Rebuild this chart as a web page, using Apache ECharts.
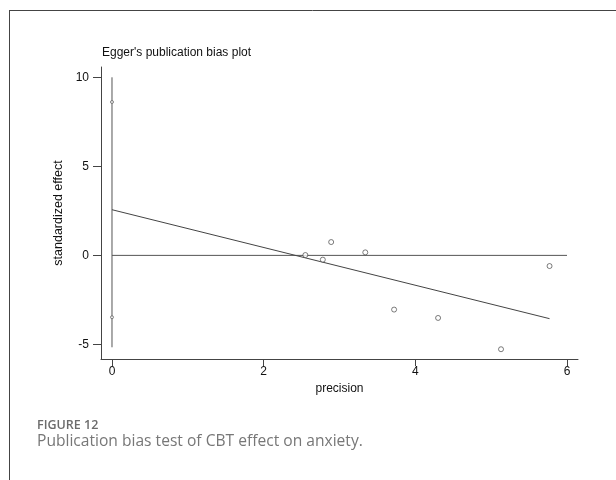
<!DOCTYPE html>
<html>
<head>
<meta charset="utf-8">
<script src="https://cdn.jsdelivr.net/npm/echarts@6/dist/echarts.min.js"></script>
<style>html,body{margin:0;padding:0;background:#fff}#c{width:616px;height:480px}</style>
</head>
<body>
<div id="c"></div>
<script>
// Study points: precision (x) vs standardized effect (y)
var precision = [2.55, 2.78, 2.89, 3.34, 3.72, 4.30, 5.13, 5.77];
var stdEffect = [0.02, -0.24, 0.75, 0.17, -3.05, -3.52, -5.28, -0.60];
// Egger regression line endpoints
var regX = [0, 5.77];
var regY = [2.57, -3.56];
// Intercept confidence interval (vertical line at x = 0) and markers
var ciLineY = [10.02, -5.17];
var ciMarkY = [8.63, -3.48];
// Zero reference line
var zeroX = [0, 6];
var zeroY = [0, 0];
// Tick labels
var xTicks = [0, 2, 4, 6];
var yTicks = [-5, 0, 5, 10];

var chart = echarts.init(document.getElementById('c'), null, {renderer: 'canvas'});
var font = 'Liberation Sans, Arial, sans-serif';
var lineCol = '#444';

function pairs(xs, ys) { return xs.map(function (x, i) { return [x, ys[i]]; }); }

chart.setOption({
  animation: false,
  backgroundColor: '#fff',
  title: {
    text: "Egger's publication bias plot",
    left: 97, top: 42,
    textStyle: {fontFamily: font, fontSize: 12, fontWeight: 'normal', color: '#111'}
  },
  grid: {left: 101, right: 38, top: 67, bottom: 121},
  xAxis: {
    type: 'value', min: -0.145, max: 6.145,
    name: 'precision', nameLocation: 'middle', nameGap: 18,
    nameTextStyle: {fontFamily: font, fontSize: 12, color: '#111'},
    axisLine: {show: true, onZero: false, lineStyle: {color: lineCol, width: 1}},
    axisTick: {show: true, length: 7, customValues: xTicks, lineStyle: {color: lineCol}},
    axisLabel: {customValues: xTicks, fontFamily: font, fontSize: 12, color: '#111', margin: 7},
    splitLine: {show: false}
  },
  yAxis: {
    type: 'value', min: -5.83, max: 10.6,
    name: 'standardized effect', nameLocation: 'middle', nameGap: 36,
    nameTextStyle: {fontFamily: font, fontSize: 12.5, color: '#111'},
    axisLine: {show: true, onZero: false, lineStyle: {color: lineCol, width: 1}},
    axisTick: {show: true, length: 8, customValues: yTicks, lineStyle: {color: lineCol}},
    axisLabel: {customValues: yTicks, fontFamily: font, fontSize: 12, color: '#111', margin: 12},
    splitLine: {show: false}
  },
  series: [
    {type: 'line', data: pairs(zeroX, zeroY), symbol: 'none', lineStyle: {color: '#555', width: 1}, z: 1},
    {type: 'line', data: pairs([0, 0], ciLineY), symbol: 'none', lineStyle: {color: '#555', width: 1}, z: 1},
    {type: 'line', data: pairs(regX, regY), symbol: 'none', lineStyle: {color: '#444', width: 1}, z: 2},
    {type: 'scatter', data: pairs([0, 0], ciMarkY), symbol: 'circle', symbolSize: 3,
      itemStyle: {color: '#fff', borderColor: '#666', borderWidth: 1}, z: 3},
    {type: 'scatter', data: pairs(precision, stdEffect), symbol: 'circle', symbolSize: 5,
      itemStyle: {color: '#fff', borderColor: '#333', borderWidth: 0.8}, z: 3}
  ],
  graphic: [
    {type: 'line', shape: {x1: 9, y1: 10.5, x2: 616, y2: 10.5}, style: {stroke: '#444', lineWidth: 1}},
    {type: 'line', shape: {x1: 9.5, y1: 10, x2: 9.5, y2: 480}, style: {stroke: '#444', lineWidth: 1}},
    {type: 'text', left: 37, top: 419, style: {text: 'FIGURE 12', font: '600 12.5px "Open Sans", sans-serif', fill: '#6b6b6b'}},
    {type: 'text', left: 37, top: 434, style: {text: 'Publication bias test of CBT effect on anxiety.', font: '15.6px "Open Sans", sans-serif', fill: '#777'}}
  ]
});
</script>
</body>
</html>
